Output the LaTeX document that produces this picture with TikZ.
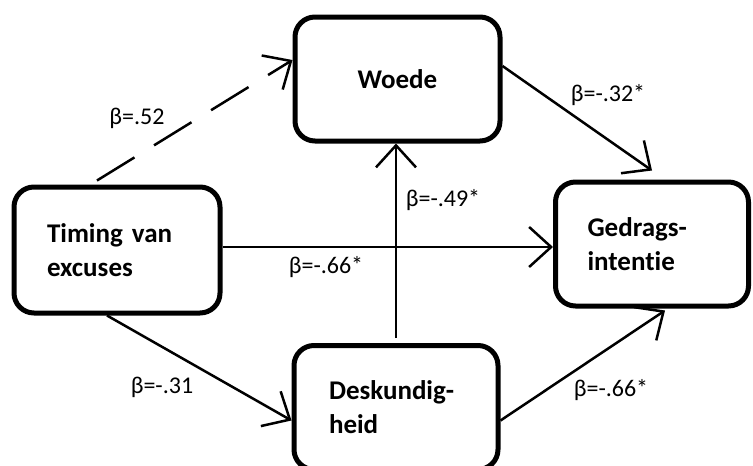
\documentclass[tikz,border=0pt]{standalone}
\usepackage{fontspec}
\setmainfont{Carlito}[Ligatures=NoCommon]
\usetikzlibrary{arrows.meta}

\tikzset{
  box/.style={draw, line width=5pt, rounded corners=20pt, minimum height=124pt,
    align=left, font=\fontsize{27}{34}\selectfont\bfseries},
  link/.style={line width=2.5pt, -{Straight Barb[length=22pt,width=40pt]}},
  beta/.style={font=\fontsize{24}{28}\selectfont}
}

\begin{document}
\begin{tikzpicture}[x=1pt,y=-1pt]
          \useasboundingbox (0,0) rectangle (753,466);
          \node [box, minimum width=205pt] (woede) at (397.5,79) {Woede};
          \node [box, minimum height=126pt, text width=140pt, inner xsep=33pt] (timing) at (117,250) {Timing van\\excuses};
          \node [box, text width=129pt, inner xsep=32pt] (gedrag) at (652,244) {Gedrags-\\intentie};
          \node [box, text width=134pt, inner xsep=35pt] (deskund) at (396,407.5) {Deskundig-\\heid};
          % paths
          \draw [link, dash pattern=on 44pt off 23pt] ([xshift=-20pt,yshift=4pt]timing.north) -- ([yshift=19pt]woede.west);
          \draw [link] ([yshift=13pt]woede.east) -- ([yshift=9pt]gedrag.north);
          \draw [link] ([yshift=5pt]deskund.north) -- (deskund.north |- woede.south);
          \draw [link] ([yshift=3pt]timing.east) -- ([yshift=3pt]timing.east -| gedrag.west);
          \draw [link] ([xshift=-10pt]timing.south) -- ([yshift=-13pt]deskund.west);
          \draw [link] ([yshift=-13pt]deskund.east) -- ([xshift=13pt,yshift=-2pt]gedrag.south);
          % coefficients
          \node [beta] (b1) at (137,118) {β=.52};
          \node [beta] (b2) at (608,95) {β=-.32*};
          \node [beta] (b3) at (443,200) {β=-.49*};
          \node [beta] (b4) at (326,267) {β=-.66*};
          \node [beta] (b5) at (162,387) {β=-.31};
          \node [beta] (b6) at (611,390) {β=-.66*};
        \end{tikzpicture}
\end{document}
